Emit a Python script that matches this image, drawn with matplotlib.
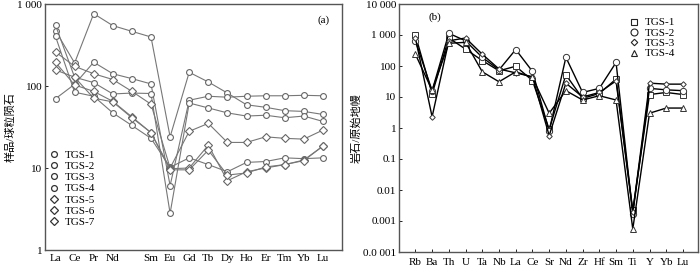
import matplotlib
matplotlib.use("Agg")
import matplotlib.pyplot as plt
from matplotlib.lines import Line2D
from matplotlib.ticker import FixedLocator, NullLocator

plt.rcParams['font.family'] = ['Liberation Serif', 'Noto Sans CJK SC']
plt.rcParams['axes.unicode_minus'] = False

# ---------------- (a) REE chondrite-normalised ----------------
ree_labels = ['La', 'Ce', 'Pr', 'Nd', '', 'Sm', 'Eu', 'Gd', 'Tb', 'Dy', 'Ho', 'Er', 'Tm', 'Yb', 'Lu']
ree_series = ['TGS-1', 'TGS-2', 'TGS-3', 'TGS-4', 'TGS-5', 'TGS-6', 'TGS-7']
tgs1_ree = [473, 191, 762, 545, 464, 396, 24, 147, 112, 82, 59, 55, 50, 49, 45]
tgs2_ree = [70, 105, 195, 141, 123, 106, 6.1, 67, 75, 73, 75, 76, 76, 77, 76]
tgs3_ree = [550, 128, 110, 80, 82, 81, 2.8, 62, 54, 47, 43, 44, 41, 43, 37]
tgs4_ree = [403, 84, 75, 47, 33, 23, 10.2, 13.3, 11, 9, 11.7, 12, 13.3, 13, 13.3]
tgs5_ree = [260, 174, 141, 120, 86, 60, 10, 28, 35, 20.5, 20.5, 24, 23, 22.5, 29]
tgs6_ree = [194, 103, 86, 65, 42, 27, 9.8, 10, 19, 7, 9, 10, 11, 12.5, 18.5]
tgs7_ree = [157, 128, 71, 64, 41, 27, 9.5, 9.5, 16.5, 8.2, 8.7, 10.3, 11, 12.3, 18.5]
ree_values = [tgs1_ree, tgs2_ree, tgs3_ree, tgs4_ree, tgs5_ree, tgs6_ree, tgs7_ree]
ree_markers = ['o', 'o', 'o', 'o', 'D', 'D', 'D']

# ---------------- (b) primitive-mantle spider ----------------
pm_labels = ['Rb', 'Ba', 'Th', 'U', 'Ta', 'Nb', 'La', 'Ce', 'Sr', 'Nd', 'Zr', 'Hf', 'Sm', 'Ti', 'Y', 'Yb', 'Lu']
pm_series = ['TGS-1', 'TGS-2', 'TGS-3', 'TGS-4']
tgs1_pm = [1000, 12.6, 800, 350, 150, 70, 98, 34, 0.9, 52, 9, 13, 38, 0.0022, 12, 14, 12]
tgs2_pm = [650, 16, 1130, 650, 190, 75, 340, 67, 0.8, 190, 14, 19, 130, 0.0017, 19, 17, 16]
tgs3_pm = [800, 2.3, 650, 800, 240, 80, 60, 45, 0.57, 28, 10, 14, 33, 0.0019, 28, 26, 26]
tgs4_pm = [240, 16.5, 540, 580, 65, 31, 65, 43, 3.0, 16, 8, 11, 8, 0.00055, 3.0, 4.4, 4.4]
pm_values = [tgs1_pm, tgs2_pm, tgs3_pm, tgs4_pm]
pm_markers = ['s', 'o', 'D', '^']
pm_msizes = [4.3, 4.5, 2.8, 4.0]

fig = plt.figure(figsize=(7.0, 2.67), dpi=100)
fs = 8

# panel a
axa = fig.add_axes([45/700, 1-250/267, 297/700, 246/267])
gray = '#777777'
xa = list(range(len(ree_labels)))
for vals, mk in zip(ree_values, ree_markers):
    axa.plot(xa, vals, color=gray, lw=0.8, marker=mk,
             ms=4.2 if mk == 'o' else 3.6, mfc='white', mec='#666666', mew=0.8)
axa.set_yscale('log')
axa.set_ylim(1, 1000)
axa.set_xlim(-0.55, 15.0)
axa.yaxis.set_major_locator(FixedLocator([1, 10, 100, 1000]))
axa.yaxis.set_minor_locator(NullLocator())
axa.set_yticklabels(['1', '10', '100', '1 000'], fontsize=fs)
axa.set_xticks(xa)
axa.set_xticklabels(ree_labels, fontsize=fs)
axa.tick_params(direction='in', length=2.5, width=0.6, pad=2)
axa.tick_params(axis='x', length=0, pad=3)
axa.set_ylabel('样品/球粒陨石', fontsize=fs, labelpad=1)
axa.text(0.96, 0.955, '(a)', transform=axa.transAxes, fontsize=fs, ha='right', va='top')
for s in axa.spines.values():
    s.set_color('#555555'); s.set_linewidth(1.0)
ha = [Line2D([], [], ls='none', marker=m, ms=4.2 if m == 'o' else 3.6,
             mfc='white', mec='#333333', mew=0.9) for m in ree_markers]
axa.legend(ha, ree_series, loc='upper left', bbox_to_anchor=(0.015, 0.405),
           frameon=False, fontsize=fs, handlelength=0.8, handletextpad=0.6,
           borderpad=0, borderaxespad=0, labelspacing=0.12)

# panel b
axb = fig.add_axes([399/700, 1-252/267, 299/700, 248/267])
xb = list(range(len(pm_labels)))
for vals, mk, msz in zip(pm_values, pm_markers, pm_msizes):
    axb.plot(xb, vals, color='black', lw=1.0, marker=mk, ms=msz,
             mfc='white', mec='#333333', mew=0.7)
axb.set_yscale('log')
axb.set_ylim(1e-4, 1e4)
axb.set_xlim(-0.98, 16.9)
yt = [1e-4, 1e-3, 1e-2, 1e-1, 1, 10, 100, 1000, 10000]
axb.yaxis.set_major_locator(FixedLocator(yt))
axb.yaxis.set_minor_locator(NullLocator())
axb.set_yticklabels(['0.0 001', '0.001', '0.01', '0.1', '1', '10', '100', '1 000', '10 000'], fontsize=fs)
axb.set_xticks(xb)
axb.set_xticklabels(pm_labels, fontsize=fs)
axb.tick_params(direction='in', length=2.5, width=0.6, pad=2)
axb.tick_params(axis='x', pad=4)
axb.set_ylabel('岩石/原始地幔', fontsize=fs, labelpad=1)
axb.text(0.1, 0.965, '(b)', transform=axb.transAxes, fontsize=fs, ha='left', va='top')
for s in axb.spines.values():
    s.set_color('#555555'); s.set_linewidth(1.0)
hb = [Line2D([], [], ls='none', marker=m, ms=msz + 0.5, mfc='white', mec='#222222', mew=0.8)
      for m, msz in zip(pm_markers, pm_msizes)]
axb.legend(hb, pm_series, loc='upper left', bbox_to_anchor=(0.77, 0.945),
           frameon=False, fontsize=fs, handlelength=0.8, handletextpad=0.6,
           borderpad=0, borderaxespad=0, labelspacing=0.05)

fig.savefig('out.png', dpi=100)
